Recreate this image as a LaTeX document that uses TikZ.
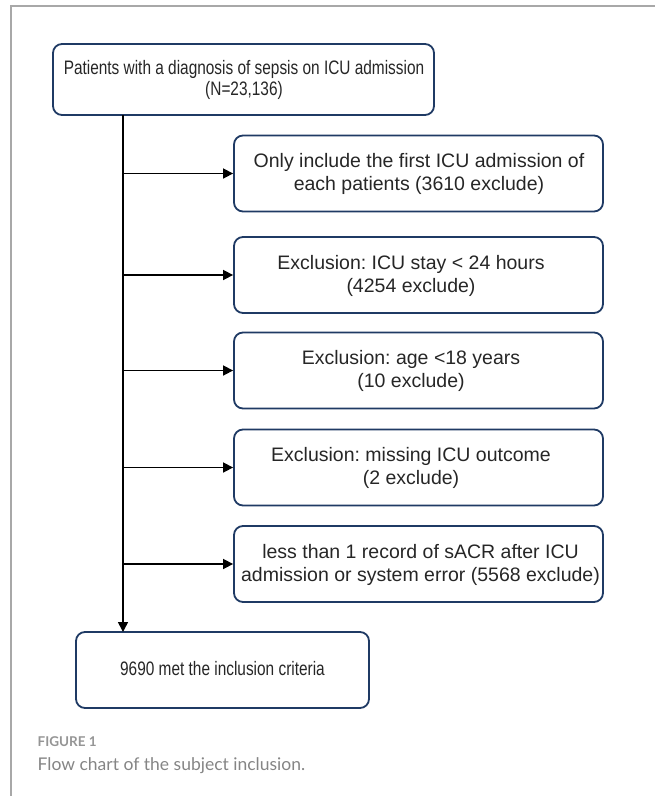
\documentclass[tikz,border=0pt]{standalone}
\usepackage{fontspec}
\setmainfont{Liberation Sans}
\newfontfamily\narrowfont[FakeStretch=0.79]{Liberation Sans}
\newfontfamily\capfont{Lato}
\usetikzlibrary{arrows.meta,calc}
\definecolor{boxblue}{HTML}{1F3A64}
\definecolor{capgray}{HTML}{858585}
\definecolor{captitlegray}{HTML}{959595}
\definecolor{framegray}{HTML}{A8A8A8}
\definecolor{txtcol}{HTML}{262626}
\frenchspacing
\begin{document}
\begin{tikzpicture}[x=1pt,y=-1pt,
  box/.style={draw=boxblue, line width=1.8pt, rounded corners=9pt, minimum height=76pt, inner sep=0pt},
  sidebox/.style={box, minimum width=369pt},
  txt/.style={align=center, font=\fontsize{19.5}{23}\selectfont, text=txtcol, inner sep=0pt},
  ntxt/.style={align=center, font=\narrowfont\fontsize{19.5}{21}\selectfont, text=txtcol, inner sep=0pt},
  arr/.style={line width=1.6pt, -{Triangle[length=10pt,width=10pt]}},
  framestyle/.style={draw=framegray, line width=1.2pt},
  captitle/.style={anchor=base west, font=\capfont\bfseries\fontsize{13.5}{15}\selectfont, text=captitlegray, inner sep=0pt},
  captext/.style={anchor=base west, font=\capfont\fontsize{17.5}{20}\selectfont, text=capgray, inner sep=0pt}]
\useasboundingbox (0,0) rectangle (655,796);
\draw[framestyle] (11,796) -- (11,6) -- (655,6);

\node[box, minimum width=381pt, minimum height=71pt] (top) at (243.5,79.5) {};
\node[ntxt] (ttop) at (244,80) {Patients with a diagnosis of sepsis on ICU admission\\(N=23,136)};

\node[sidebox] (b1) at (418.5,173.5) {};
\node[txt] (t1) at (419,174) {Only include the first ICU admission of\\each patients (3610 exclude)};
\node[sidebox] (b2) at (418.5,275) {};
\node[txt] (t2) at (411,276) {Exclusion: ICU stay < 24 hours\\(4254 exclude)};
\node[sidebox] (b3) at (418.5,370.5) {};
\node[txt] (t3) at (411,371) {Exclusion: age <18 years\\(10 exclude)};
\node[sidebox] (b4) at (418.5,467.5) {};
\node[txt] (t4) at (411,468) {Exclusion: missing ICU outcome\\(2 exclude)};
\node[sidebox] (b5) at (418.5,564) {};
\node[txt] (t5) at (420.5,565) {less than 1 record of sACR after ICU\\admission or system error (5568 exclude)};

\node[box, minimum width=293pt] (bot) at (222.5,670) {};
\node[ntxt] (tbot) at (222.5,669) {9690 met the inclusion criteria};

\coordinate (vs) at (123,115);
\coordinate (ve) at (123,632);
\draw[arr] (vs) -- (ve);
\foreach \b in {b1,b2,b3,b4,b5}
  \draw[arr] (vs |- \b.west) -- (\b.west);

\node[captitle] (fig) at (37.5,746) {FIGURE 1};
\node[captext] (cap) at (37.5,770) {Flow chart of the subject inclusion.};
\end{tikzpicture}
\end{document}
